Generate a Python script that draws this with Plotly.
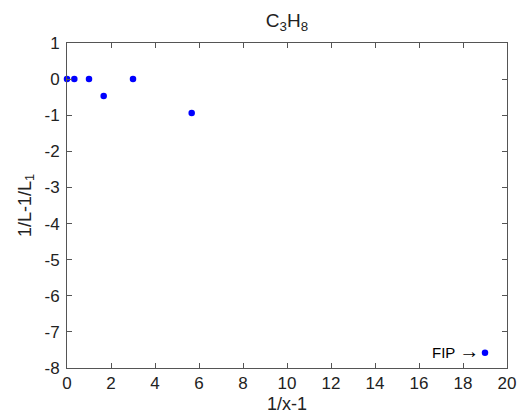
import plotly.graph_objects as go

x_vals = [0, 0.333, 1, 1.667, 3, 5.667, 19]
y_vals = [0, 0, 0, -0.47, 0, -0.94, -7.58]
x_ticks = [0, 2, 4, 6, 8, 10, 12, 14, 16, 18, 20]
y_ticks = [1, 0, -1, -2, -3, -4, -5, -6, -7, -8]

FONT = "Liberation Sans, Arial"

fig = go.Figure()
fig.add_trace(go.Scatter(x=x_vals, y=y_vals, mode="markers",
                         marker=dict(color="#0000ff", size=6.5, symbol="circle"),
                         showlegend=False, cliponaxis=False))

fig.add_annotation(x=x_vals[-1], y=y_vals[-1],
                   text="FIP <span style='font-size:20px'>\u2192</span>", showarrow=False,
                   xanchor="right", xshift=-4, yshift=2,
                   font=dict(size=15, color="#000000", family=FONT))

axis_common = dict(showline=True, linecolor="#555555", linewidth=1, mirror="ticks",
                   ticks="inside", ticklen=5, tickcolor="#555555", showgrid=False,
                   zeroline=False, automargin=False,
                   tickfont=dict(size=17, color="#222222", family=FONT))

fig.update_layout(
    width=519, height=418,
    margin=dict(l=67, r=12, t=43, b=50),
    plot_bgcolor="white", paper_bgcolor="white",
    font=dict(family=FONT, color="#222222"),
    title=dict(text="C<sub>3</sub>H<sub>8</sub>", x=0.553, xanchor="center",
               y=0.952, yanchor="middle",
               font=dict(size=19, color="#222222", family=FONT)),
    xaxis=dict(range=[0, 20], tickvals=x_ticks, ticktext=[str(v) for v in x_ticks],
               title=dict(text="1/x-1", font=dict(size=18, family=FONT), standoff=4),
               **axis_common),
    yaxis=dict(range=[-8, 1], tickvals=y_ticks, ticktext=[str(v) for v in y_ticks],
               ticklabelstandoff=3,
               title=dict(text="1/L-1/L<sub>1</sub>", font=dict(size=18, family=FONT), standoff=8),
               **axis_common),
)

fig.write_html("out.html", config={"displayModeBar": False},
               post_script="document.body.style.margin='0px';")
